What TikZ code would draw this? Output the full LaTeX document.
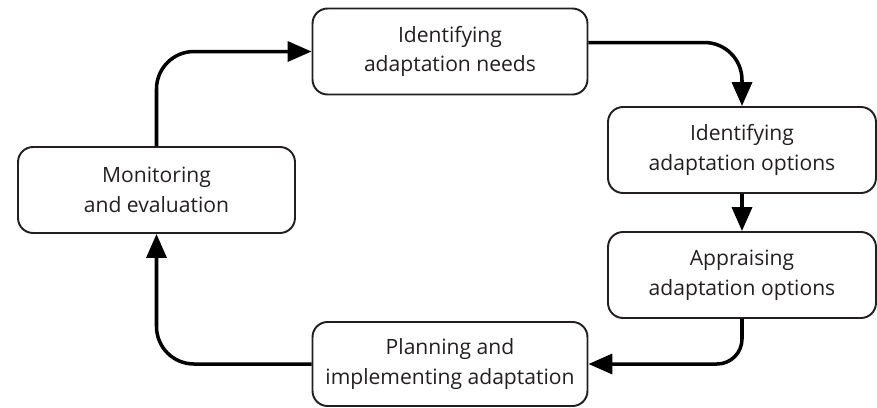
\documentclass[tikz,border=0pt]{standalone}
\usepackage{fontspec}
\setmainfont{Open Sans}
\usepackage{xcolor}
\usepackage{tikz}
\usetikzlibrary{arrows.meta}

\definecolor{inkdark}{HTML}{231F20}

\begin{document}
\begin{tikzpicture}[x=0.02cm, y=-0.02cm,
    stage/.style={draw=inkdark, rounded corners=0.3cm, line width=1.1pt, align=center,
        minimum width=5.5cm, minimum height=1.72cm, text=inkdark,
        font=\fontsize{12}{17}\selectfont},
    loop/.style={draw=black, line width=2pt, rounded corners=0.75cm,
        -{Triangle[length=0.48cm,width=0.4cm]}}]
    \useasboundingbox (0,0) rectangle (877,407);
    % the five stages
    \node[stage] (needs) at (450,51.5) {Identifying\\adaptation needs};
    \node[stage, minimum width=5.36cm] (options) at (742,150) {Identifying\\adaptation options};
    \node[stage, minimum width=5.36cm] (appraise) at (742,275) {Appraising\\adaptation options};
    \node[stage, minimum height=1.68cm] (plan) at (450,364) {Planning and\\implementing adaptation};
    \node[stage, minimum width=5.54cm] (monitor) at (156.5,190) {Monitoring\\and evaluation};
    % the cycle
    \draw[loop] ([yshift=0.18cm]needs.east) -| (options.north);
    \draw[loop] (options.south) -- (appraise.north);
    \draw[loop, rounded corners=0.5cm] (appraise.south) |- (plan.east);
    \draw[loop] (plan.west) -| (monitor.south);
    \draw[loop] (monitor.north) |- (needs.west);
\end{tikzpicture}
\end{document}
